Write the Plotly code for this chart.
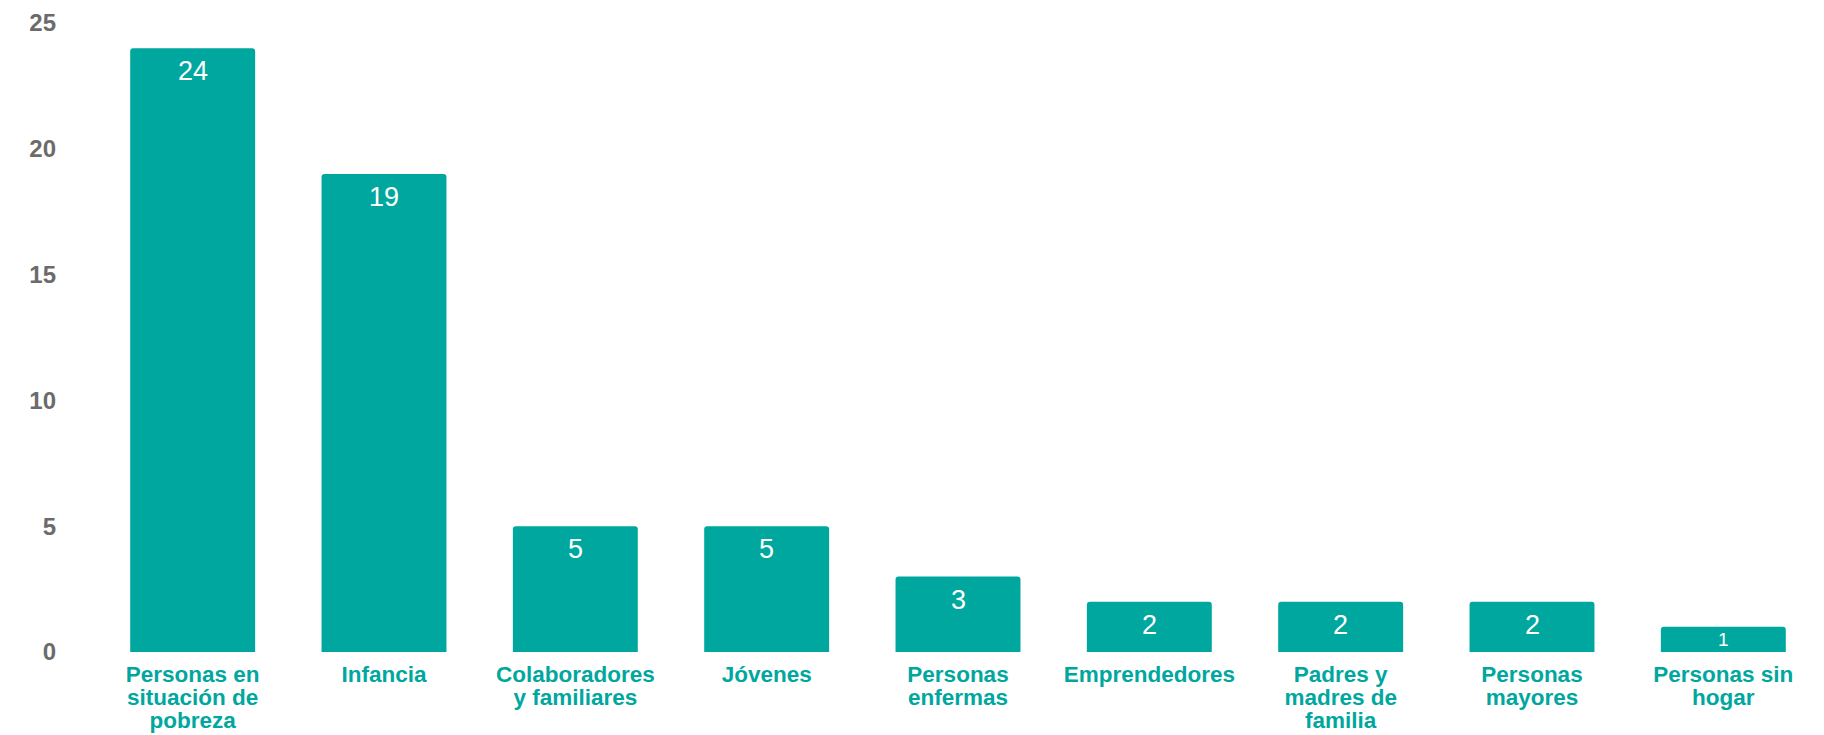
import plotly.graph_objects as go

categories = [
    "Personas en<br>situación de<br>pobreza",
    "Infancia",
    "Colaboradores<br>y familiares",
    "Jóvenes",
    "Personas<br>enfermas",
    "Emprendedores",
    "Padres y<br>madres de<br>familia",
    "Personas<br>mayores",
    "Personas sin<br>hogar",
]
values = [24, 19, 5, 5, 3, 2, 2, 2, 1]
y_ticks = [0, 5, 10, 15, 20, 25]

TEAL = "#00A79E"
GRAY = "#6B6B6B"
FONT = "Liberation Sans, Arial, sans-serif"
LABEL_PX = 22.5
VALUE_PX = 27
SMALL_VALUE_PX = 19

W, H = 1824, 735
M = dict(l=89, r=13, t=15, b=91)
Y_MAX = 25


def wrap(label):
    return "<br>".join(
        f"<span style='font-size:{LABEL_PX}px'>{line}</span>" for line in label.split("<br>")
    )


ticktext = [wrap(c) for c in categories]

fig = go.Figure(
    go.Bar(
        x=categories,
        y=values,
        marker=dict(color=TEAL, cornerradius=3, line=dict(width=0)),
        hoverinfo="x+y",
    )
)

px_per_unit = (H - M["t"] - M["b"]) / Y_MAX
annotations = []
for c, v in zip(categories, values):
    bar_px = v * px_per_unit
    if bar_px >= 40:
        annotations.append(dict(
            x=c, y=v, xref="x", yref="y", text=str(v), showarrow=False,
            yanchor="top", yshift=-6,
            font=dict(size=VALUE_PX, color="white", family=FONT),
        ))
    else:
        annotations.append(dict(
            x=c, y=v / 2, xref="x", yref="y", text=str(v), showarrow=False,
            yanchor="middle", yshift=0,
            font=dict(size=SMALL_VALUE_PX, color="white", family=FONT),
        ))

fig.update_layout(
    width=W,
    height=H,
    margin=dict(**M, autoexpand=False),
    paper_bgcolor="white",
    plot_bgcolor="white",
    bargap=0.347,
    showlegend=False,
    font=dict(family=FONT),
    annotations=annotations,
)

fig.update_xaxes(
    automargin=False,
    tickmode="array",
    tickvals=categories,
    ticktext=ticktext,
    tickangle=0,
    tickfont=dict(size=17.9, color=TEAL, family=FONT, weight="bold"),
    showgrid=False,
    showline=False,
    zeroline=False,
    ticks="",
    ticklabelstandoff=11,
)

fig.update_yaxes(
    automargin=False,
    range=[0, Y_MAX],
    tickmode="array",
    tickvals=y_ticks,
    ticktext=[str(t) for t in y_ticks],
    tickfont=dict(size=24, color=GRAY, family=FONT, weight="bold"),
    showgrid=False,
    showline=False,
    zeroline=False,
    ticks="",
    ticklabelstandoff=40,
)

fig.write_html("out.html")
